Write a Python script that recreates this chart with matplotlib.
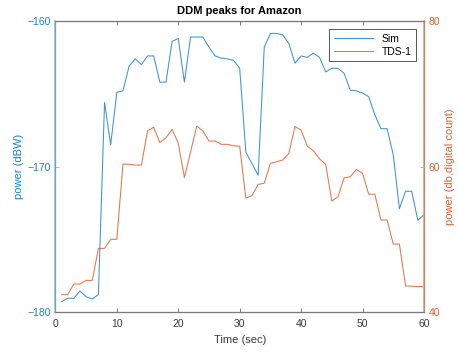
import numpy as np
import matplotlib.pyplot as plt

plt.rcParams['font.family'] = ['Liberation Sans', 'DejaVu Sans']

t = np.arange(1, 61)
sim = np.array([-179.3, -179.05, -179.05, -178.55, -178.95, -179.1, -178.8, -165.6, -168.5, -164.9,
                -164.8, -163.1, -162.6, -163.0, -162.4, -162.4, -164.2, -164.2, -161.4, -161.2,
                -164.2, -161.1, -161.1, -161.1, -161.8, -162.4, -162.55, -162.6, -162.7, -163.25,
                -169.0, -169.8, -170.6, -161.8, -160.85, -160.85, -160.95, -161.55, -162.9, -162.4,
                -162.5, -162.2, -162.5, -163.5, -163.25, -163.25, -163.6, -164.75, -164.8, -164.95,
                -165.2, -166.45, -167.4, -167.4, -169.2, -172.9, -171.7, -171.7, -173.7, -173.3])
tds = np.array([42.4, 42.4, 43.85, 43.85, 44.35, 44.35, 48.75, 48.75, 50.0, 50.0,
                60.35, 60.3, 60.2, 60.2, 64.9, 65.4, 63.3, 63.95, 65.1, 63.2,
                58.5, 62.0, 65.55, 64.9, 63.5, 63.5, 63.05, 63.05, 62.85, 62.8,
                55.65, 56.0, 57.55, 57.7, 60.45, 60.65, 60.9, 61.8, 65.5, 65.0,
                62.8, 62.15, 61.05, 60.3, 55.25, 55.85, 58.45, 58.6, 59.6, 59.05,
                56.2, 56.2, 52.65, 52.65, 49.35, 49.35, 43.6, 43.55, 43.5, 43.5])

blue = '#1a80c8'
orange = '#dd6330'
line_blue = '#3c93d2'
line_orange = '#e2764a'
grey = '#3a3a3a'

fig = plt.figure(figsize=(4.59, 3.53), dpi=100)
ax = fig.add_axes([0.1207, 0.116, 0.8030, 0.8245])
ax2 = ax.twinx()

l1, = ax.plot(t, sim, color=line_blue, lw=0.75)
l2, = ax2.plot(t, tds, color=line_orange, lw=0.75)

ax.set_xlim(0, 60)
ax.set_ylim(-180, -160)
ax2.set_ylim(40, 80)
ax.set_xticks(np.arange(0, 61, 10))
ax.set_yticks([-180, -170, -160])
ax2.set_yticks([40, 60, 80])

ax.tick_params(axis='x', direction='in', length=3, labelsize=7.5, colors='#7a7a7a',
               labelcolor=grey, top=True, width=0.7, pad=5)
ax.tick_params(axis='y', direction='in', length=3, labelsize=7.5, colors='#8ec3e6',
               labelcolor=blue, width=0.7)
ax2.tick_params(axis='y', direction='in', length=3, labelsize=7.5, colors='#e8a282',
                labelcolor=orange, width=0.7)

for s in ('top', 'bottom'):
    ax2.spines[s].set_color('#7a7a7a')
    ax2.spines[s].set_linewidth(0.8)
ax2.spines['left'].set_color('#8ec3e6')
ax2.spines['right'].set_color('#e8a282')
ax2.spines['left'].set_linewidth(1.2)
ax2.spines['right'].set_linewidth(1.2)

ax.set_xlabel('Time (sec)', fontsize=8, color=grey, labelpad=4)
ax.set_ylabel('power (dBW)', fontsize=8, color=blue, labelpad=2)
ax2.set_ylabel('power (db,digital count)', fontsize=8, color=orange, labelpad=3)
ax.set_title('DDM peaks for Amazon', fontsize=8, fontweight='bold', pad=5)

leg = ax2.legend([l1, l2], ['Sim', 'TDS-1'], loc='upper right', fontsize=7.5,
                 fancybox=False, framealpha=1, edgecolor='#555555', handlelength=3.8,
                 borderaxespad=0.8, borderpad=0.4, labelspacing=0.3)
leg.get_frame().set_linewidth(0.7)

fig.savefig('out.png', dpi=100)
